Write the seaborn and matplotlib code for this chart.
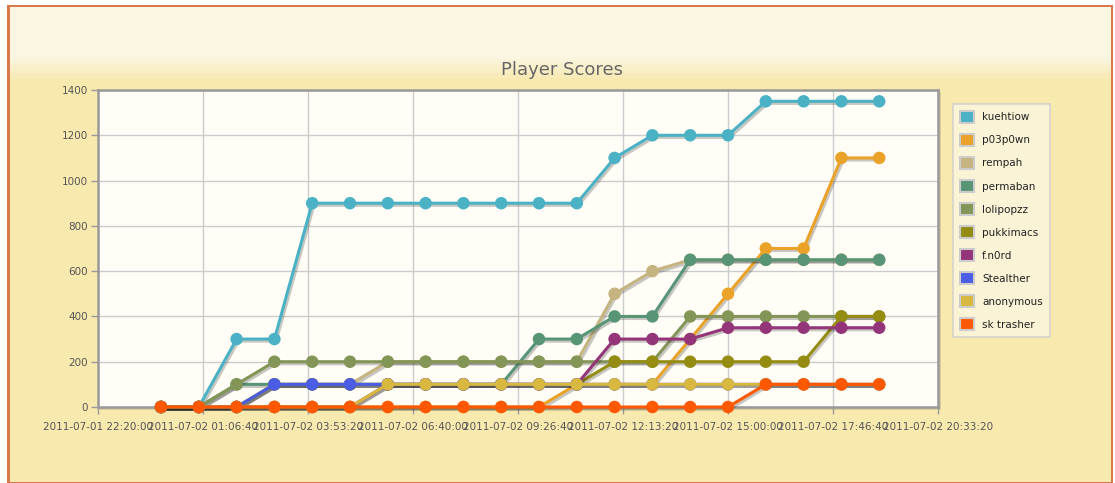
import numpy as np
import pandas as pd
import matplotlib
matplotlib.use('Agg')
import matplotlib.pyplot as plt
import matplotlib.dates as mdates
import matplotlib.patheffects as pe
from matplotlib.patches import Patch, Rectangle
import seaborn as sns

# Время: каждый час 2011-07-02 00:00 .. 19:00
times = pd.date_range('2011-07-02 00:00:00', periods=20, freq='h')

players = ['kuehtiow', 'p03p0wn', 'rempah', 'permaban', 'lolipopzz',
           'pukkimacs', 'f.n0rd', 'Stealther', 'anonymous', 'sk trasher']
colors = ['#4bb2c5', '#eaa228', '#c5b47f', '#579575', '#839557',
          '#958c12', '#953579', '#4b5de4', '#d8b83f', '#ff5800']

kuehtiow = [0, 0, 300, 300, 900, 900, 900, 900, 900, 900, 900, 900, 1100, 1200, 1200, 1200, 1350, 1350, 1350, 1350]
p03p0wn = [0, 0, 0, 0, 0, 0, 0, 0, 0, 0, 0, 100, 100, 100, 300, 500, 700, 700, 1100, 1100]
rempah = [0, 0, 0, 100, 100, 100, 200, 200, 200, 200, 200, 200, 500, 600, 650, 650, 650, 650, 650, 650]
permaban = [0, 0, 100, 100, 100, 100, 100, 100, 100, 100, 300, 300, 400, 400, 650, 650, 650, 650, 650, 650]
lolipopzz = [0, 0, 100, 200, 200, 200, 200, 200, 200, 200, 200, 200, 200, 200, 400, 400, 400, 400, 400, 400]
pukkimacs = [0, 0, 0, 100, 100, 100, 100, 100, 100, 100, 100, 100, 200, 200, 200, 200, 200, 200, 400, 400]
fn0rd = [0, 0, 0, 0, 0, 0, 100, 100, 100, 100, 100, 100, 300, 300, 300, 350, 350, 350, 350, 350]
stealther = [0, 0, 0, 100, 100, 100, 100, 100, 100, 100, 100, 100, 100, 100, 100, 100, 100, 100, 100, 100]
anonymous = [0, 0, 0, 0, 0, 0, 100, 100, 100, 100, 100, 100, 100, 100, 100, 100, 100, 100, 100, 100]
sk_trasher = [0, 0, 0, 0, 0, 0, 0, 0, 0, 0, 0, 0, 0, 0, 0, 0, 100, 100, 100, 100]

series = [kuehtiow, p03p0wn, rempah, permaban, lolipopzz,
          pukkimacs, fn0rd, stealther, anonymous, sk_trasher]

df = pd.concat([pd.DataFrame({'time': times, 'score': s, 'player': p})
                for p, s in zip(players, series)], ignore_index=True)

W, H = 1115, 483
fig = plt.figure(figsize=(W / 100, H / 100), dpi=100, facecolor='white')

# Рамка и фон панели
fig.patches.append(Rectangle((7 / W, 0), 1106 / W, 478 / H, transform=fig.transFigure,
                             facecolor='#d9784a', edgecolor='none', zorder=-3))
bg = fig.add_axes([9.5 / W, 1 / H, 1101 / W, 475 / H], zorder=-2)
grad = np.ones((100, 1, 3))
top = np.array([0.985, 0.965, 0.885])
bot = np.array([0.976, 0.914, 0.690])
for i in range(100):
    t = np.clip((i - 10) / 5.0, 0, 1)
    grad[i, 0] = top * (1 - t) + bot * t
bg.imshow(grad, aspect='auto', extent=[0, 1, 0, 1], origin='upper')
bg.set_xlim(0, 1)
bg.set_ylim(0, 1)
bg.axis('off')

# тень области графика
fig.patches.append(Rectangle((100 / W, 1 - 410 / H), 841 / W, 318 / H, transform=fig.transFigure,
                             facecolor='#000000', alpha=0.12, edgecolor='none', zorder=-1))

ax = fig.add_axes([98 / W, 1 - 407 / H, 840 / W, 317 / H])
ax.set_facecolor('#fffdf6')

sns.lineplot(data=df, x='time', y='score', hue='player', hue_order=players,
             palette=colors, marker='o', markersize=9, markeredgewidth=0,
             linewidth=2.2, legend=False, ax=ax, zorder=3)

for ln in ax.lines:
    ln.set_path_effects([pe.SimpleLineShadow(offset=(1.2, -1.5), shadow_color='#222222', alpha=0.25),
                         pe.Normal()])
    ln.set_clip_on(False)

start = pd.Timestamp('2011-07-01 22:20:00')
ticks = pd.date_range(start, periods=9, freq='10000s')
ax.set_xlim(ticks[0], ticks[-1])
ax.set_xticks(ticks)
ax.xaxis.set_major_formatter(mdates.DateFormatter('%Y-%m-%d %H:%M:%S'))
ax.set_ylim(0, 1400)
ax.set_yticks(range(0, 1401, 200))

ax.grid(True, color='#cccccc', linewidth=1)
ax.set_axisbelow(True)
for sp in ax.spines.values():
    sp.set_color('#999999')
    sp.set_linewidth(1.8)
ax.tick_params(axis='both', colors='#999999', labelcolor='#555555', labelsize=7.5,
               length=5, width=1)
ax.tick_params(axis='x', pad=6)
ax.tick_params(axis='y', pad=2)
ax.set_xlabel('')
ax.set_ylabel('')

fig.text(562 / W, 1 - 70 / H, 'Player Scores', ha='center', va='center',
         fontsize=13, color='#666666')

handles = [Patch(facecolor=c, edgecolor='#cccccc', linewidth=1.5) for c in colors]
leg = fig.legend(handles, players, loc='upper left',
                 bbox_to_anchor=(953 / W, 1 - 104 / H), borderaxespad=0, fontsize=7.5,
                 handlelength=1.3, handleheight=1.3, handletextpad=0.8,
                 labelspacing=1.12, borderpad=0.7, frameon=True, fancybox=False,
                 labelcolor='#222222')
leg.get_frame().set_facecolor('#fbf6e1')
leg.get_frame().set_edgecolor('#cccccc')
leg.get_frame().set_linewidth(1.2)

plt.savefig('out.png', dpi=100)
